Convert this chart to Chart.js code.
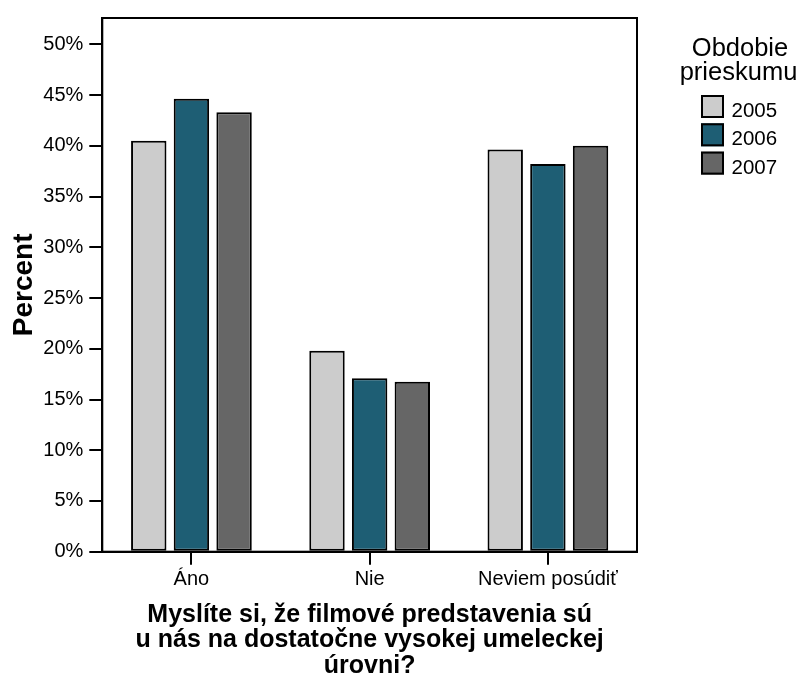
<!DOCTYPE html>
<html>
<head>
<meta charset="utf-8">
<script src="https://cdn.jsdelivr.net/npm/chart.js@4"></script>
<style>
  html, body { margin: 0; padding: 0; background: #ffffff; }
  #wrap { width: 803px; height: 679px; }
</style>
</head>
<body>
<div id="wrap"><canvas id="c" width="803" height="679"></canvas></div>
<script>
const categories = ['Áno', 'Nie', 'Neviem posúdiť'];
const seriesLabels = ['2005', '2006', '2007'];
const values2005 = [40.5, 19.8, 39.65];
const values2006 = [44.65, 17.1, 38.2];
const values2007 = [43.3, 16.75, 40.0];
const yTickValues = [0, 5, 10, 15, 20, 25, 30, 35, 40, 45, 50];
const seriesColors = ['#cccccc', '#1e5e74', '#666666'];
const xTitle = ['Myslíte si, že filmové predstavenia sú', 'u nás na dostatočne vysokej umeleckej', 'úrovni?'];
const yTitle = 'Percent';
const legendTitle = ['Obdobie', 'prieskumu'];

const FONT = "'Liberation Sans', Arial, Helvetica, sans-serif";

const framePlugin = {
  id: 'frame',
  afterDatasetsDraw(chart) {
    const {ctx, chartArea: a} = chart;
    ctx.save();
    ctx.strokeStyle = '#000';
    ctx.lineWidth = 2;
    ctx.strokeRect(a.left, a.top, a.right - a.left, a.bottom - a.top);
    ctx.restore();
  }
};

const legendPlugin = {
  id: 'sideLegend',
  afterDraw(chart) {
    const ctx = chart.ctx;
    ctx.save();
    ctx.fillStyle = '#000';
    ctx.font = '25.5px ' + FONT;
    ctx.textAlign = 'center';
    ctx.textBaseline = 'alphabetic';
    ctx.fillText(legendTitle[0], 740, 55.5);
    ctx.fillText(legendTitle[1], 738.5, 80);
    ctx.font = '20.5px ' + FONT;
    ctx.textAlign = 'left';
    chart.data.datasets.forEach((ds, i) => {
      const y = 95 + i * 28.3;
      ctx.fillStyle = ds.backgroundColor;
      ctx.fillRect(701, y, 23, 23);
      ctx.strokeStyle = '#000';
      ctx.lineWidth = 2;
      ctx.strokeRect(702, y + 1, 21, 21);
      ctx.fillStyle = '#000';
      ctx.fillText(ds.label, 731.5, y + 22);
    });
    ctx.restore();
  }
};

const datasets = [values2005, values2006, values2007].map((vals, i) => ({
  label: seriesLabels[i],
  data: vals,
  backgroundColor: seriesColors[i],
  borderColor: '#000',
  borderWidth: 2,
  borderSkipped: false,
  categoryPercentage: 0.718,
  barPercentage: 0.83
}));

new Chart(document.getElementById('c'), {
  type: 'bar',
  data: { labels: categories, datasets },
  plugins: [framePlugin, legendPlugin],
  options: {
    responsive: false,
    devicePixelRatio: 1,
    animation: false,
    layout: { padding: { left: 0, right: 166, top: 15, bottom: 0 } },
    plugins: { legend: { display: false }, tooltip: { enabled: false } },
    scales: {
      x: {
        offset: true,
        grid: { display: true, drawOnChartArea: false, drawTicks: true, tickLength: 13, offset: false, color: '#000', tickColor: '#000', lineWidth: 2 },
        border: { display: true, color: '#000', width: 2 },
        ticks: { color: '#000', padding: 3, font: { family: FONT, size: 20 }, maxRotation: 0, autoSkip: false },
        title: { display: true, text: xTitle, color: '#000', font: { family: FONT, size: 25, weight: 'bold', lineHeight: 1.02 }, padding: { top: 0, bottom: 0.6 } },
        afterFit(s) { s.height = 127.3; }
      },
      y: {
        min: 0,
        max: 52.6,
        afterBuildTicks(s) { s.ticks = yTickValues.map(v => ({ value: v })); },
        grid: { display: true, drawOnChartArea: false, drawTicks: true, tickLength: 13, color: '#000', tickColor: '#000', lineWidth: 2 },
        border: { display: true, color: '#000', width: 2 },
        ticks: { color: '#000', padding: 6, font: { family: FONT, size: 20 }, callback: v => v + '%' },
        title: { display: true, text: yTitle, color: '#000', font: { family: FONT, size: 28, weight: 'bold' }, padding: { top: 7, bottom: 0 } },
        afterFit(s) { s.width = 102.3; }
      }
    }
  }
});
</script>
</body>
</html>
